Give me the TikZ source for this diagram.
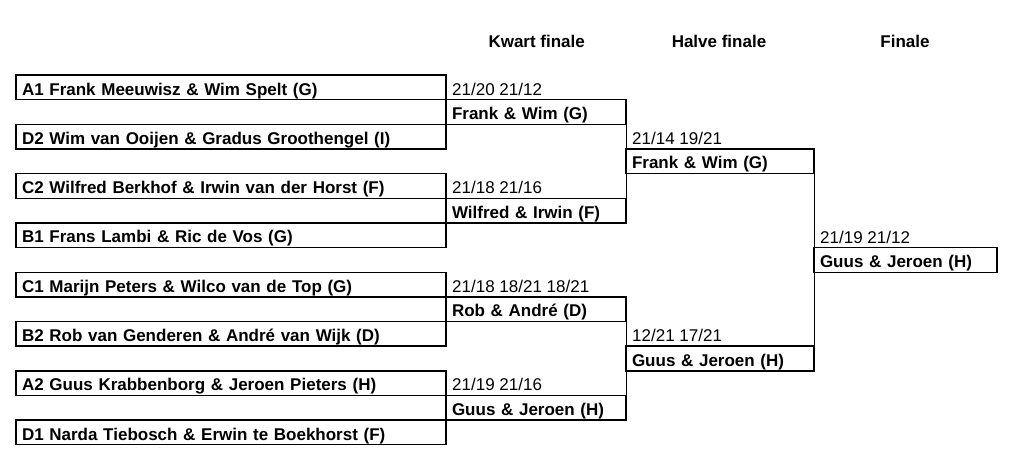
\documentclass[tikz,border=0pt]{standalone}
\usepackage{fontspec}
\setmainfont{Liberation Sans}
\usepackage{tikz}
\usetikzlibrary{positioning}
\newcommand{\bracketfont}{\fontsize{17}{20}\selectfont}

\begin{document}
\begin{tikzpicture}[x=1pt, y=-1pt, box style/.style={draw, rectangle, line width=1.4pt, outer sep=0pt, anchor=north west, inner xsep=6pt, inner ysep=0pt, minimum height=24.65pt, text height=17.7pt, text depth=2.3pt, align=left, text width=#1, font=\bracketfont\bfseries}, score style/.style={anchor=base west, inner sep=0pt, font=\bracketfont}, head style/.style={anchor=base, inner sep=0pt, font=\bracketfont\bfseries}, line style/.style={line width=1pt}]
	\useasboundingbox (0,0) rectangle (1024,473);
	\node[head style] (hq) at (536.7, 48) {Kwart finale};
	\node[head style] (hh) at (719, 48) {Halve finale};
	\node[head style] (hf) at (905, 48) {Finale};
	\node[box style=418pt] (A1) at (16, 75) {A1 Frank Meeuwisz \& Wim Spelt (G)};
	\node[box style=418pt] (D2) at (16, 124.3) {D2 Wim van Ooijen \& Gradus Groothengel (I)};
	\node[box style=418pt] (C2) at (16, 173.6) {C2 Wilfred Berkhof \& Irwin van der Horst (F)};
	\node[box style=418pt] (B1) at (16, 222.9) {B1 Frans Lambi \& Ric de Vos (G)};
	\node[box style=418pt] (C1) at (16, 272.2) {C1 Marijn Peters \& Wilco van de Top (G)};
	\node[box style=418pt] (B2) at (16, 321.5) {B2 Rob van Genderen \& André van Wijk (D)};
	\node[box style=418pt] (A2) at (16, 370.8) {A2 Guus Krabbenborg \& Jeroen Pieters (H)};
	\node[box style=418pt] (D1) at (16, 420.1) {D1 Narda Tiebosch \& Erwin te Boekhorst (F)};
	\node[box style=168pt] (Q1) at (446, 99.65) {Frank \& Wim (G)};
	\node[box style=168pt] (Q2) at (446, 198.25) {Wilfred \& Irwin (F)};
	\node[box style=168pt] (Q3) at (446, 296.85) {Rob \& André (D)};
	\node[box style=168pt] (Q4) at (446, 395.45) {Guus \& Jeroen (H)};
	\node[box style=176pt] (S1) at (626, 148.95) {Frank \& Wim (G)};
	\node[box style=176pt] (S2) at (626, 346.15) {Guus \& Jeroen (H)};
	\node[box style=171pt] (F) at (814, 247.55) {Guus \& Jeroen (H)};
	\node[score style] (q1s) at (452, 95.15) {21/20 21/12};
	\node[score style] (q2s) at (452, 193.75) {21/18 21/16};
	\node[score style] (q3s) at (452, 292.35) {21/18 18/21 18/21};
	\node[score style] (q4s) at (452, 390.95) {21/19 21/16};
	\node[score style] (s1s) at (632, 144.45) {21/14 19/21};
	\node[score style] (s2s) at (632, 341.65) {12/21 17/21};
	\node[score style] (fs) at (820, 243.05) {21/19 21/12};
	\draw[line style] (Q1.south east) -- (S1.north west);
	\draw[line style] (S1.south west) -- (Q2.north east);
	\draw[line style] (Q3.south east) -- (S2.north west);
	\draw[line style] (S2.south west) -- (Q4.north east);
	\draw[line style] (S1.south east) -- (F.north west);
	\draw[line style] (F.south west) -- (S2.north east);
\end{tikzpicture}
\end{document}
